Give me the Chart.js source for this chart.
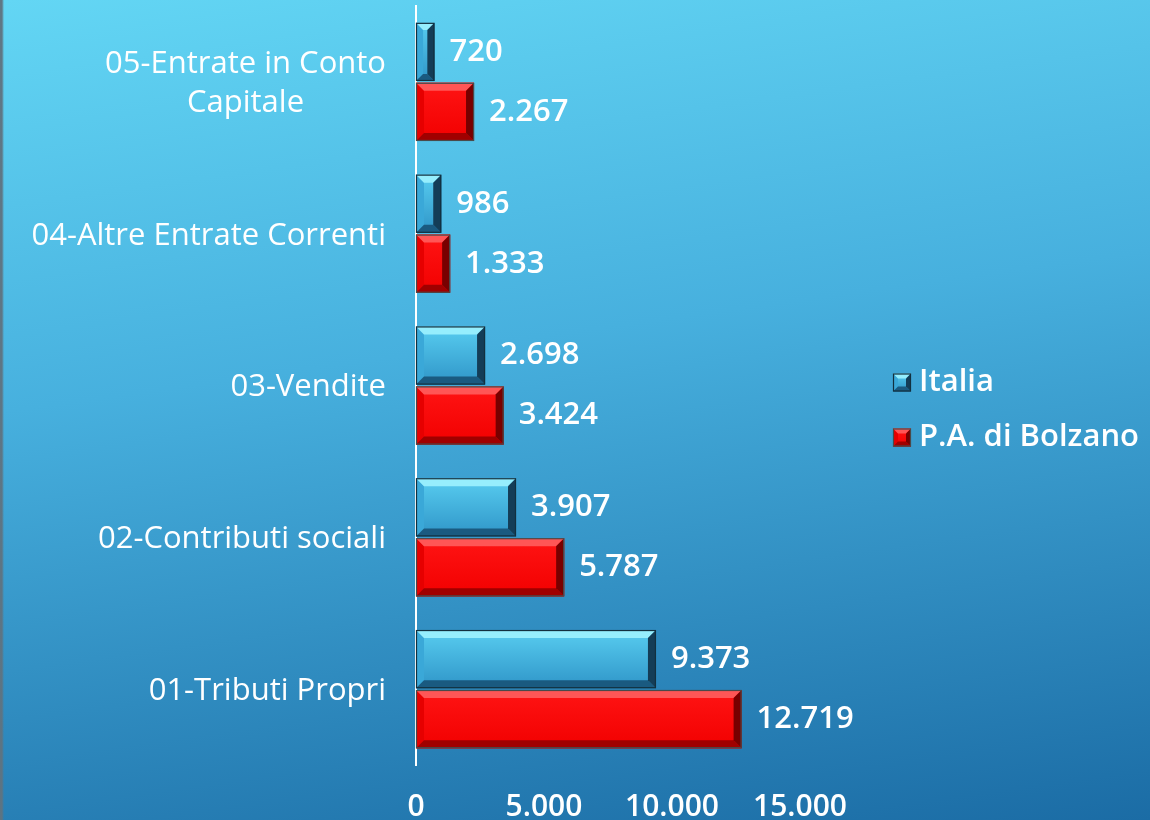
<!DOCTYPE html>
<html><head><meta charset="utf-8">
<script src="https://cdn.jsdelivr.net/npm/chart.js@4.4.1/dist/chart.umd.min.js"></script>
<style>
html,body{margin:0;padding:0;}
body{width:1150px;height:820px;overflow:hidden;
background: linear-gradient(to right, rgba(95,115,128,0.95) 0px, rgba(95,115,128,0.95) 2px, rgba(0,0,0,0) 4px), linear-gradient(172deg, #63d6f4 0%, #47b0de 42%, #1b6ca5 100%);}
#wrap{width:1150px;height:820px;position:relative;}
</style></head><body><div id="wrap"><canvas id="c" width="1150" height="820"></canvas></div>
<script>
// ---- data ----
const categories = [['05-Entrate in Conto','Capitale'], '04-Altre Entrate Correnti', '03-Vendite', '02-Contributi sociali', '01-Tributi Propri'];
const seriesNames = ['Italia', 'P.A. di Bolzano'];
const italiaValues = [720, 986, 2698, 3907, 9373];
const bolzanoValues = [2267, 1333, 3424, 5787, 12719];
const xTickValues = [0, 5000, 10000, 15000];

// ---- style ----
const palettes = [
  {face:['#58cdf0','#2f95c8'], top:'#96eefd', bottom:'#1a5a80', right:'#143d57', left:'#3aa8d8', edge:'#12303f'},
  {face:['#ff1414','#f20000'], top:'#ff5656', bottom:'#a00000', right:'#780000', left:'#e60000', edge:'#4a4a4a'}
];
function fmt(v){ return String(v).replace(/\B(?=(\d{3})+(?!\d))/g, '.'); }
const FONT = '"Open Sans", "Liberation Sans", sans-serif';

function drawBevel(ctx, L, T, R, B, pal, bev){
  const w = R - L, h = B - T;
  const b = Math.max(1, Math.min(bev, w / 2.6, h / 2.6));
  ctx.save();
  const g = ctx.createLinearGradient(0, T, 0, B);
  g.addColorStop(0, pal.face[0]); g.addColorStop(1, pal.face[1]);
  ctx.fillStyle = g; ctx.fillRect(L, T, w, h);
  const poly = (pts, col) => { ctx.beginPath(); ctx.moveTo(pts[0][0], pts[0][1]); for (let i=1;i<pts.length;i++) ctx.lineTo(pts[i][0], pts[i][1]); ctx.closePath(); ctx.fillStyle = col; ctx.fill(); };
  poly([[L,T],[L,B],[L+b,B-b],[L+b,T+b]], pal.left);
  poly([[L,T],[R,T],[R-b,T+b],[L+b,T+b]], pal.top);
  poly([[L,B],[R,B],[R-b,B-b],[L+b,B-b]], pal.bottom);
  poly([[R,T],[R,B],[R-b,B-b],[R-b,T+b]], pal.right);
  ctx.strokeStyle = pal.edge; ctx.lineWidth = 1.2;
  ctx.strokeRect(L + 0.5, T + 0.5, w - 1, h - 1);
  ctx.restore();
}

const bevelPlugin = {
  id: 'bevel',
  afterDatasetsDraw(chart){
    const ctx = chart.ctx;
    chart.data.datasets.forEach((ds, di) => {
      const meta = chart.getDatasetMeta(di);
      meta.data.forEach(el => {
        const p = el.getProps(['x','y','base','height'], true);
        const L = Math.min(p.x, p.base), R = Math.max(p.x, p.base);
        const T = p.y - p.height/2, B = p.y + p.height/2;
        drawBevel(ctx, L, T, R, B, palettes[di], 8);
      });
    });
  }
};

const labelPlugin = {
  id: 'labels',
  afterDraw(chart){
    const ctx = chart.ctx, ca = chart.chartArea, ys = chart.scales.y;
    ctx.save();
    ctx.fillStyle = '#ffffff';
    // category labels
    ctx.font = '500 31px ' + FONT;
    ctx.textBaseline = 'middle';
    chart.data.labels.forEach((lab, i) => {
      const cy = ys.getPixelForValue(i) + 2;
      const rightX = ca.left - 30;
      const lines = Array.isArray(lab) ? lab : [lab];
      const lh = 39;
      const widest = Math.max(...lines.map(l => ctx.measureText(l).width));
      lines.forEach((ln, k) => {
        const y = cy + (k - (lines.length - 1) / 2) * lh;
        if (lines.length > 1) { ctx.textAlign = 'center'; ctx.fillText(ln, rightX - widest / 2, y); }
        else { ctx.textAlign = 'right'; ctx.fillText(ln, rightX, y); }
      });
    });
    // value labels
    ctx.font = '600 31px ' + FONT;
    ctx.textAlign = 'left';
    chart.data.datasets.forEach((ds, di) => {
      chart.getDatasetMeta(di).data.forEach((el, i) => {
        const p = el.getProps(['x','y'], true);
        ctx.fillText(fmt(ds.data[i]), p.x + 15, p.y);
      });
    });
    // legend
    const lx = ca.right + 93, cyc = chart.height / 2, sp = 55;
    ctx.font = '600 31px ' + FONT;
    seriesNames.forEach((n, i) => {
      const y = cyc + (i - 0.5) * sp;
      drawBevel(ctx, lx, y - 9, lx + 18, y + 9, palettes[i], 5);
      ctx.fillStyle = '#ffffff';
      ctx.fillText(n, lx + 26, y);
    });
    ctx.restore();
  }
};

new Chart(document.getElementById('c'), {
  type: 'bar',
  data: {
    labels: categories,
    datasets: [
      {label: seriesNames[0], data: italiaValues, backgroundColor: palettes[0].face[1], borderWidth: 0, barPercentage: 0.97, categoryPercentage: 0.79},
      {label: seriesNames[1], data: bolzanoValues, backgroundColor: palettes[1].face[1], borderWidth: 0, barPercentage: 0.97, categoryPercentage: 0.79}
    ]
  },
  options: {
    indexAxis: 'y',
    responsive: false,
    animation: false,
    devicePixelRatio: 1,
    layout: {padding: {left: 0, right: 350, top: 6, bottom: 0}},
    plugins: {legend: {display: false}, tooltip: {enabled: false}},
    scales: {
      x: {
        min: 0, max: 15000,
        afterBuildTicks: s => { s.ticks = xTickValues.map(v => ({value: v})); },
        ticks: {color: '#ffffff', font: {family: FONT, size: 30, weight: '600'}, padding: 24, maxRotation: 0, autoSkip: false, callback: v => fmt(v)},
        grid: {display: false, drawTicks: false},
        border: {display: false},
        afterFit: s => { s.height = 55; }
      },
      y: {
        ticks: {display: false},
        grid: {display: false, drawTicks: false},
        border: {display: true, color: '#ffffff', width: 2},
        afterFit: s => { s.width = 416; }
      }
    }
  },
  plugins: [bevelPlugin, labelPlugin]
});
</script></body></html>
